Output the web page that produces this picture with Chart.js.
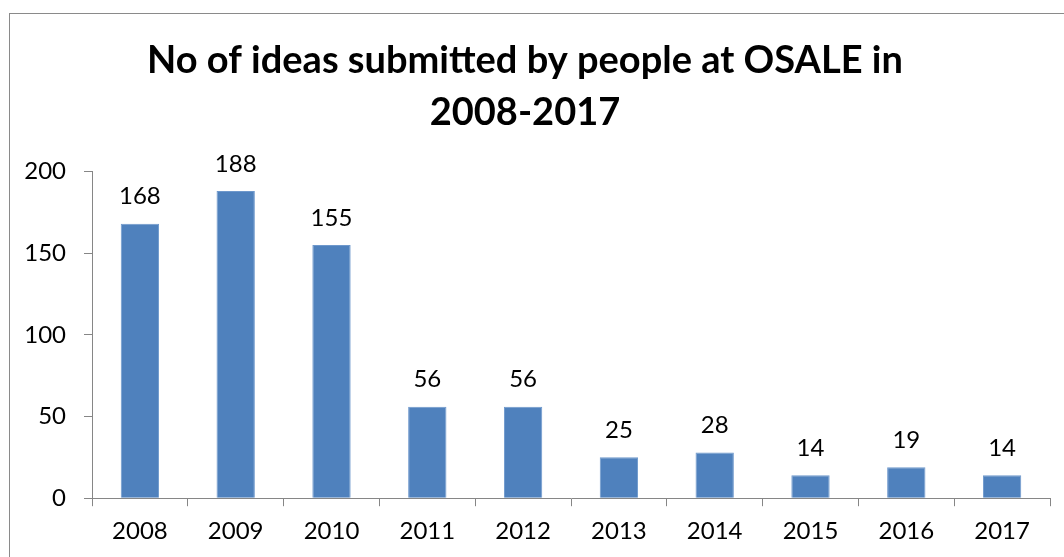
<!DOCTYPE html>
<html>
<head>
<meta charset="utf-8">
<script src="https://cdn.jsdelivr.net/npm/chart.js@4/dist/chart.umd.min.js"></script>
<style>
  html, body { margin: 0; padding: 0; background: #ffffff; overflow: hidden; }
  #frame {
    position: absolute; left: 9px; top: 13px; width: 2000px; height: 2000px;
    border-left: 1px solid #8a8a8a; border-top: 1px solid #8a8a8a;
  }
  #wrap { position: absolute; left: 0; top: 0; width: 1064px; height: 557px; }
</style>
</head>
<body>
<div id="frame"></div>
<div id="wrap"><canvas id="chart" width="1064" height="557"></canvas></div>
<script>
// Ideas submitted per year
const years = ['2008', '2009', '2010', '2011', '2012', '2013', '2014', '2015', '2016', '2017'];
const ideas = [168, 188, 155, 56, 56, 25, 28, 14, 19, 14];
const yTicks = [0, 50, 100, 150, 200];
const titleLines = ['No of ideas submitted by people at OSALE in', '2008-2017'];

const FONT = "Lato, 'Open Sans', sans-serif";
const AXIS_GREY = '#868686';

// Writes each bar's value just above it
const valueLabels = {
  id: 'valueLabels',
  afterDatasetsDraw(chart) {
    const ctx = chart.ctx;
    const meta = chart.getDatasetMeta(0);
    ctx.save();
    ctx.font = '24px ' + FONT;
    ctx.fillStyle = '#000000';
    ctx.textAlign = 'center';
    ctx.textBaseline = 'middle';
    meta.data.forEach((bar, i) => {
      ctx.fillText(String(chart.data.datasets[0].data[i]), bar.x, bar.y - 27);
    });
    ctx.restore();
  }
};

new Chart(document.getElementById('chart'), {
  type: 'bar',
  data: {
    labels: years,
    datasets: [{
      data: ideas,
      backgroundColor: '#4f81bd',
      borderColor: '#6e98cc',
      borderWidth: 1,
      barPercentage: 0.4,
      categoryPercentage: 1.0
    }]
  },
  options: {
    responsive: false,
    animation: false,
    devicePixelRatio: 1,
    layout: { padding: { left: 0, right: 14, top: 0, bottom: 0 } },
    plugins: {
      legend: { display: false },
      tooltip: { enabled: false },
      title: {
        display: true,
        text: titleLines,
        color: '#000000',
        font: { family: FONT, size: 38, weight: 'bold', lineHeight: 1.36 },
        padding: { top: 35, bottom: 33 }
      }
    },
    scales: {
      x: {
        offset: true,
        grid: {
          offset: true,
          drawOnChartArea: false,
          drawTicks: true,
          tickLength: 8,
          color: AXIS_GREY
        },
        border: { display: true, color: AXIS_GREY, width: 1 },
        ticks: {
          color: '#000000',
          font: { family: FONT, size: 24 },
          padding: 11,
          maxRotation: 0
        }
      },
      y: {
        min: 0,
        max: 200,
        afterBuildTicks(scale) {
          scale.ticks = yTicks.map(v => ({ value: v }));
        },
        afterFit(scale) { scale.width = 92; },
        grid: {
          drawOnChartArea: false,
          drawTicks: true,
          tickLength: 8,
          color: AXIS_GREY
        },
        border: { display: true, color: AXIS_GREY, width: 1 },
        ticks: {
          color: '#000000',
          font: { family: FONT, size: 24 },
          padding: 18
        }
      }
    }
  },
  plugins: [valueLabels]
});
</script>
</body>
</html>
